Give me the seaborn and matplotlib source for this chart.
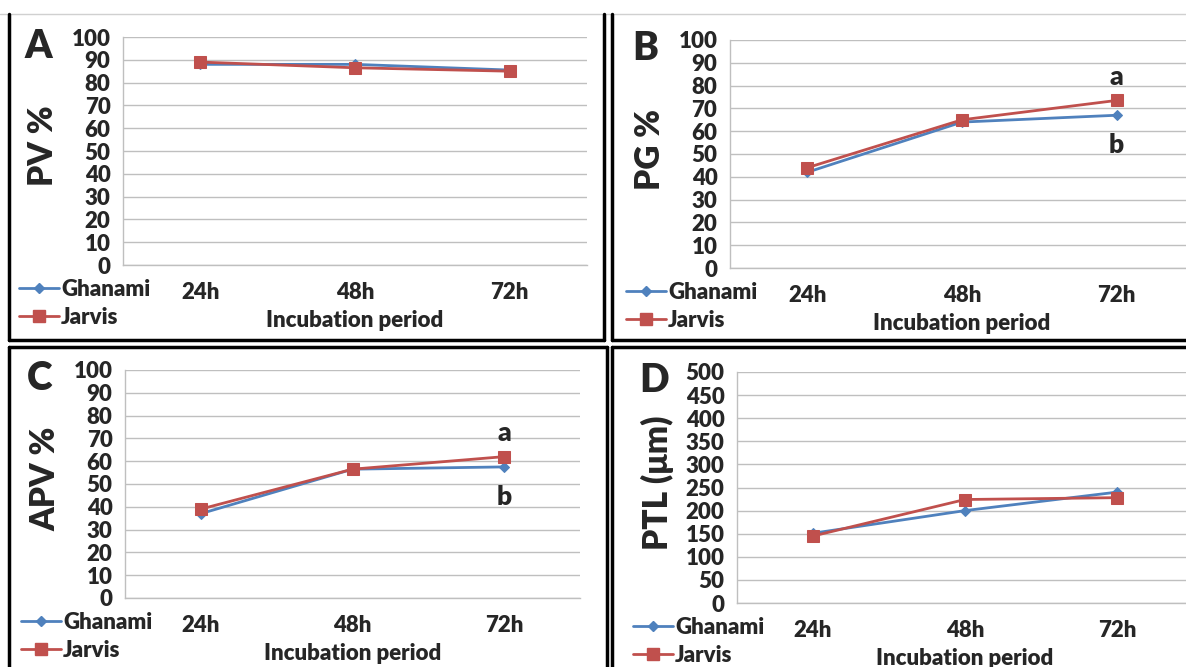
import numpy as np
import pandas as pd
import seaborn as sns
import matplotlib.pyplot as plt
from matplotlib.lines import Line2D

# data
periods = ["24h", "48h", "72h"]
cultivars = ["Ghanami", "Jarvis"]

pv_ghanami = [88, 88, 85.5]
pv_jarvis = [89, 86.5, 85]
pg_ghanami = [42, 64, 67]
pg_jarvis = [44, 65, 73.5]
apv_ghanami = [37, 56.5, 57.5]
apv_jarvis = [39, 56.5, 62]
ptl_ghanami = [151, 200, 240]
ptl_jarvis = [145, 224, 228]

err_small = [1.5, 1.5, 1.5]
err_ptl = [6, 6, 6]

sns.set_theme(style="white")
plt.rcParams["font.family"] = ["Lato", "DejaVu Sans"]
plt.rcParams["font.weight"] = "bold"

blue = "#4F81BD"
red = "#C0504D"
grey = "#BFBFBF"

fig = plt.figure(figsize=(11.86, 6.67), dpi=100)
W, H = 1186, 667


def fx(px):
    return px / W


def fy(py):
    return 1 - py / H


panels = [
    # letter, ylabel, ghanami, jarvis, err, ymax, step, rect(px: left, top, right, bottom)
    ("A", "PV %", pv_ghanami, pv_jarvis, err_small, 100, 10, (123, 37, 587, 265)),
    ("B", "PG %", pg_ghanami, pg_jarvis, err_small, 100, 10, (730, 40, 1194, 268)),
    ("C", "APV %", apv_ghanami, apv_jarvis, err_small, 100, 10, (125, 370, 580, 598)),
    ("D", "PTL (\u03bcm)", ptl_ghanami, ptl_jarvis, err_ptl, 500, 50, (737, 372, 1193, 603)),
]

for letter, ylab, gh, ja, err, ymax, step, (l, t, r, b) in panels:
    ax = fig.add_axes([fx(l), fy(b), (r - l) / W, (b - t) / H])
    df = pd.DataFrame({
        "pos": list(range(len(periods))) * 2,
        "value": gh + ja,
        "cultivar": [cultivars[0]] * 3 + [cultivars[1]] * 3,
    })
    for name, col, mk, ms in [("Ghanami", blue, "D", 5), ("Jarvis", red, "s", 8)]:
        sub = df[df["cultivar"] == name]
        ax.errorbar(sub["pos"], sub["value"], yerr=err, fmt="none",
                    ecolor="black", elinewidth=1, zorder=2)
        sns.lineplot(data=sub, x="pos", y="value", color=col, marker=mk,
                     markersize=ms, markeredgecolor=col, linewidth=2,
                     ax=ax, zorder=3)

    ax.set_xlim(-0.5, 2.5)
    ax.set_ylim(0, ymax)
    ax.set_yticks(np.arange(0, ymax + 1, step))
    ax.set_xticks(range(3))
    ax.set_xticklabels(periods)
    ax.set_xticks([-0.5, 0.5, 1.5, 2.5], minor=True)
    ax.tick_params(axis="x", which="major", length=0, pad=12, labelsize=16)
    ax.tick_params(axis="x", which="minor", length=6, color=grey, direction="out")
    ax.tick_params(axis="y", length=6, color=grey, direction="out", pad=3, labelsize=16)
    for lab in ax.get_xticklabels() + ax.get_yticklabels():
        lab.set_fontweight("heavy")
    ax.yaxis.grid(True, color=grey, linewidth=1)
    ax.set_axisbelow(True)
    for s in ["top", "right"]:
        ax.spines[s].set_visible(False)
    for s in ["left", "bottom"]:
        ax.spines[s].set_color(grey)
        ax.spines[s].set_linewidth(1)
    ax.set_xlabel("Incubation period", fontsize=16, fontweight="heavy", labelpad=5)
    ax.set_ylabel("")

    # y label, panel letter
    fig.text(fx(l - 80), fy((t + b) / 2 - 5), ylab, rotation=90, fontsize=24,
             fontweight="heavy", ha="center", va="center")
    fig.text(fx(l - 98), fy(t + 9), letter, fontsize=28, fontweight="heavy",
             ha="left", va="center")

    handles = [
        Line2D([], [], color=blue, marker="D", markersize=5, linewidth=2),
        Line2D([], [], color=red, marker="s", markersize=8, linewidth=2),
    ]
    ax.legend(handles, cultivars, loc="upper left", frameon=False,
              bbox_to_anchor=(fx(l - 104), fy(b + 14)), bbox_transform=fig.transFigure,
              handlelength=1.8, handletextpad=0.1, labelspacing=0.3,
              borderaxespad=0, borderpad=0,
              prop={"size": 16, "weight": "heavy"})

    if letter in ("B", "C"):
        ax.text(2, ja[2] + 5, "a", ha="center", va="bottom", fontsize=19, fontweight="heavy")
        ax.text(2, gh[2] - 8, "b", ha="center", va="top", fontsize=19, fontweight="heavy")

# panel frames
def seg(x0, y0, x1, y1, color="black", lw=2.5):
    fig.add_artist(Line2D([fx(x0), fx(x1)], [fy(y0), fy(y1)], color=color,
                          linewidth=lw, transform=fig.transFigure))

seg(0, 14, W, 14, color="#D0D0D0", lw=1)
seg(9, 14, 9, 340)
seg(9, 340, 604, 340)
seg(604, 14, 604, 340)
seg(612, 14, 612, 340)
seg(612, 340, W, 340)
seg(9, 347, 9, H)
seg(9, 347, 607, 347)
seg(607, 347, 607, H)
seg(612, 347, 612, H)
seg(612, 347, W, 347)

fig.savefig("out.png", dpi=100)
